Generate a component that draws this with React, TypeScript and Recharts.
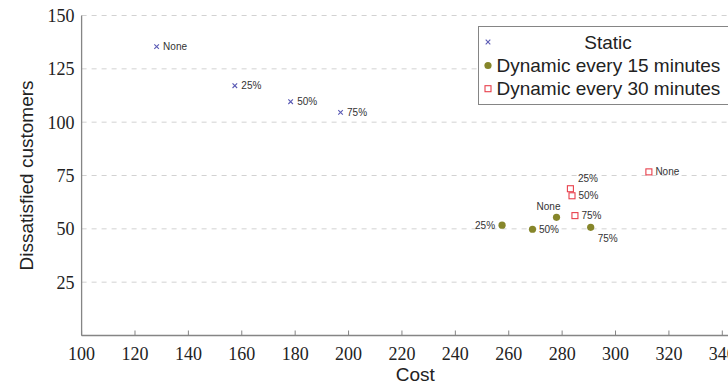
import React from 'react';
import { ScatterChart, Scatter, XAxis, YAxis, CartesianGrid, Legend } from 'recharts';

// ---- data ----
const pointLabels = ['None', '25%', '50%', '75%'];
const staticCost = [128.1, 157.4, 178.3, 197.0];
const staticDissatisfied = [135.4, 117.1, 109.6, 104.6];
const dyn15Cost = [277.9, 257.5, 268.9, 290.7];
const dyn15Dissatisfied = [55.4, 51.7, 49.8, 50.7];
const dyn30Cost = [312.5, 283.1, 283.7, 284.8];
const dyn30Dissatisfied = [76.7, 68.8, 65.5, 56.2];
const xTicks = [100, 120, 140, 160, 180, 200, 220, 240, 260, 280, 300, 320, 340];
const yTicks = [25, 50, 75, 100, 125, 150];
const seriesNames = ['Static', 'Dynamic every 15 minutes', 'Dynamic every 30 minutes'];

// ---- styles ----
const C_STATIC = '#5b5bb5';
const C_DYN15 = '#86862a';
const C_DYN30 = '#e8404c';
const FRAME = '#858585';
const SERIF = '"Liberation Serif", "Times New Roman", serif';
const SANS = '"Liberation Sans", Arial, sans-serif';

const staticAnchors: Record<string, string> = { None: 'right', '25%': 'right', '50%': 'right', '75%': 'right' };
const dyn15Anchors: Record<string, string> = { None: 'aboveLeft', '25%': 'left', '50%': 'right', '75%': 'belowRight' };
const dyn30Anchors: Record<string, string> = { None: 'right', '25%': 'aboveRight', '50%': 'right', '75%': 'right' };

const build = (xs: number[], ys: number[]) => xs.map((x, i) => ({ x, y: ys[i], label: pointLabels[i] }));
const staticData = build(staticCost, staticDissatisfied);
const dyn15Data = build(dyn15Cost, dyn15Dissatisfied);
const dyn30Data = build(dyn30Cost, dyn30Dissatisfied);

const PointLabel = ({ cx, cy, text, anchor }: any) => {
  let x = cx + 6.5, y = cy, ta: any = 'start';
  if (anchor === 'left') { x = cx - 7; ta = 'end'; }
  else if (anchor === 'aboveLeft') { x = cx - 8; y = cy - 11; ta = 'middle'; }
  else if (anchor === 'belowRight') { x = cx + 7; y = cy + 11; }
  else if (anchor === 'aboveRight') { x = cx + 7.5; y = cy - 10; }
  return (
    <text x={x} y={y} textAnchor={ta} dominantBaseline="central" fontFamily={SANS} fontSize={10} fill="#333">
      {text}
    </text>
  );
};

const xPath = (cx: number, cy: number, r: number) =>
  `M${cx - r},${cy - r}L${cx + r},${cy + r}M${cx - r},${cy + r}L${cx + r},${cy - r}`;

const StaticShape = (p: any) => (
  <g>
    <path d={xPath(p.cx, p.cy, 2.3)} stroke={C_STATIC} strokeWidth={1.1} fill="none" />
    <PointLabel cx={p.cx} cy={p.cy} text={p.payload.label} anchor={staticAnchors[p.payload.label]} />
  </g>
);
const Dyn15Shape = (p: any) => (
  <g>
    <circle cx={p.cx} cy={p.cy} r={3.6} fill={C_DYN15} />
    <PointLabel cx={p.cx} cy={p.cy} text={p.payload.label} anchor={dyn15Anchors[p.payload.label]} />
  </g>
);
const Dyn30Shape = (p: any) => (
  <g>
    <rect x={p.cx - 3} y={p.cy - 3} width={6} height={6} fill="white" stroke={C_DYN30} strokeWidth={1.1} />
    <PointLabel cx={p.cx} cy={p.cy} text={p.payload.label} anchor={dyn30Anchors[p.payload.label]} />
  </g>
);

const BottomTick = ({ x, y, payload }: any) => {
  const axisY = y - 15;
  return (
    <g>
      <line x1={x} x2={x} y1={axisY} y2={axisY - 5} stroke={FRAME} strokeWidth={1} />
      <text x={x} y={axisY + 24} textAnchor="middle" fontFamily={SERIF} fontSize={18} fill="#222">
        {payload.value}
      </text>
    </g>
  );
};
const TopTick = ({ x, y }: any) => (
  <line x1={x} x2={x} y1={y} y2={y + 6} stroke={FRAME} strokeWidth={1} />
);

const renderLegend = () => (
  <svg width={272} height={79} style={{ display: 'block' }}>
    <rect x={0.5} y={0.5} width={271} height={78} fill="white" stroke={FRAME} strokeWidth={1} />
    <path d={xPath(10, 16, 2.3)} stroke={C_STATIC} strokeWidth={1.1} fill="none" />
    <text x={130} y={16} textAnchor="middle" dominantBaseline="central" fontFamily={SANS} fontSize={19} fill="#222">
      {seriesNames[0]}
    </text>
    <circle cx={10} cy={39.5} r={3.6} fill={C_DYN15} />
    <text x={18.5} y={39.5} dominantBaseline="central" fontFamily={SANS} fontSize={19} fill="#222">
      {seriesNames[1]}
    </text>
    <rect x={7} y={59.7} width={6} height={6} fill="white" stroke={C_DYN30} strokeWidth={1.1} />
    <text x={18.5} y={62.7} dominantBaseline="central" fontFamily={SANS} fontSize={19} fill="#222">
      {seriesNames[2]}
    </text>
  </svg>
);

export default function App() {
  return (
    <div style={{ position: 'absolute', left: 0, top: 0, width: 728, height: 384, overflow: 'hidden', background: 'white' }}>
      <ScatterChart width={749} height={384} margin={{ top: 15.5, right: 0, bottom: 0, left: 0 }}>
        <CartesianGrid xAxisId="b" vertical={false} stroke="#d2d2d2" strokeDasharray="5 5" />
        <XAxis
          xAxisId="b"
          type="number"
          dataKey="x"
          domain={[100, 350]}
          ticks={xTicks}
          allowDataOverflow
          height={48.5}
          tickSize={0}
          tickMargin={15}
          tickLine={false}
          axisLine={{ stroke: FRAME, strokeWidth: 1.3 }}
          tick={<BottomTick />}
          interval={0}
          label={{
            content: (props: any) => {
              const vb = props.viewBox;
              return (
                <text x={vb.x + vb.width / 2} y={381} textAnchor="middle" fontFamily={SANS} fontSize={19} fill="#222">
                  Cost
                </text>
              );
            },
          }}
        />
        <XAxis
          xAxisId="t"
          orientation="top"
          type="number"
          dataKey="x"
          domain={[100, 350]}
          ticks={xTicks}
          allowDataOverflow
          height={0}
          tickSize={0}
          tickMargin={0}
          tickLine={false}
          axisLine={{ stroke: FRAME, strokeWidth: 1.3 }}
          tick={<TopTick />}
          interval={0}
        />
        <YAxis
          type="number"
          dataKey="y"
          domain={[0, 150]}
          ticks={yTicks}
          allowDataOverflow
          width={81.6}
          tickSize={0}
          tickMargin={7}
          tickLine={false}
          axisLine={{ stroke: FRAME, strokeWidth: 1.3 }}
          tick={{ fontFamily: SERIF, fontSize: 18, fill: '#222' }}
          interval={0}
          label={{
            content: (props: any) => {
              const vb = props.viewBox;
              const cy = vb.y + vb.height / 2;
              return (
                <text x={26} y={cy} transform={`rotate(-90 26 ${cy})`} textAnchor="middle" dominantBaseline="central" fontFamily={SANS} fontSize={19} fill="#222">
                  Dissatisfied customers
                </text>
              );
            },
          }}
        />
        <Legend
          layout="horizontal"
          verticalAlign="middle"
          align="center"
          content={renderLegend}
          wrapperStyle={{ position: 'absolute', left: 478, top: 25.5, width: 272, height: 79 }}
        />
        <Scatter name={seriesNames[0]} xAxisId="b" data={staticData} shape={StaticShape} isAnimationActive={false} />
        <Scatter name={seriesNames[1]} xAxisId="b" data={dyn15Data} shape={Dyn15Shape} isAnimationActive={false} />
        <Scatter name={seriesNames[2]} xAxisId="b" data={dyn30Data} shape={Dyn30Shape} isAnimationActive={false} />
      </ScatterChart>
    </div>
  );
}
